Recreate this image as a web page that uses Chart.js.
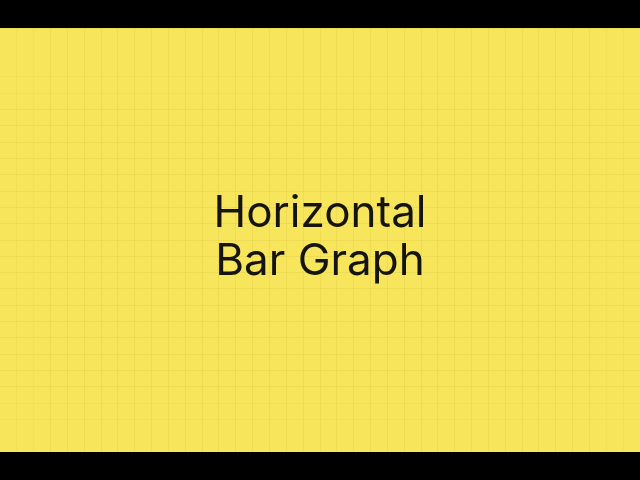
<!DOCTYPE html>
<html>
<head>
<meta charset="utf-8">
<script src="https://cdn.jsdelivr.net/npm/chart.js@4"></script>
<style>
html,body{margin:0;padding:0;background:#000;width:640px;height:480px;overflow:hidden;}
#wrap{position:absolute;left:0;top:28px;width:640px;height:424px;background:#F7E55C;}
canvas{display:block;}
</style>
</head>
<body>
<div id="wrap"><canvas id="c" width="640" height="424"></canvas></div>
<script>
// Title card: text lines and background grid ticks
const titleLines = ["Horizontal", "Bar Graph"];
const categories = [];
const seriesValues = [];
const xTickMin = 0, xTickMax = 38;
const yTickMin = 0, yTickMax = 25;

function gridColor(ctx, maxIdx, edge) {
  const i = ctx.index;
  const d = Math.min(i, maxIdx - i);
  if (d < edge) return 'rgba(190,170,40,0)';
  const a = d < edge + 2 ? 0.07 : 0.13;
  return 'rgba(185,165,40,' + a + ')';
}

const centerText = {
  id: 'centerText',
  afterDraw(chart) {
    const ctx = chart.ctx;
    ctx.save();
    ctx.fillStyle = '#161410';
    ctx.font = '400 44px Inter, "Noto Sans", sans-serif';
    ctx.textAlign = 'center';
    ctx.textBaseline = 'alphabetic';
    const baselines = [199, 247];
    titleLines.forEach((t, i) => ctx.fillText(t, 320, baselines[i]));
    ctx.restore();
  }
};

new Chart(document.getElementById('c'), {
  type: 'bar',
  data: { labels: categories, datasets: [{ data: seriesValues, backgroundColor: '#222' }] },
  options: {
    responsive: false,
    animation: false,
    indexAxis: 'y',
    layout: { padding: 0 },
    plugins: { legend: { display: false }, title: { display: false }, tooltip: { enabled: false } },
    scales: {
      x: {
        type: 'linear', min: xTickMin, max: xTickMax,
        ticks: { display: false, stepSize: 1 },
        grid: { color: (c) => gridColor(c, xTickMax - xTickMin, 1), lineWidth: 1, drawTicks: false },
        border: { display: false }
      },
      y: {
        type: 'linear', min: yTickMin, max: yTickMax,
        ticks: { display: false, stepSize: 1 },
        grid: { color: (c) => gridColor(c, yTickMax - yTickMin, 2), lineWidth: 1, drawTicks: false },
        border: { display: false }
      }
    }
  },
  plugins: [centerText]
});
</script>
</body>
</html>
